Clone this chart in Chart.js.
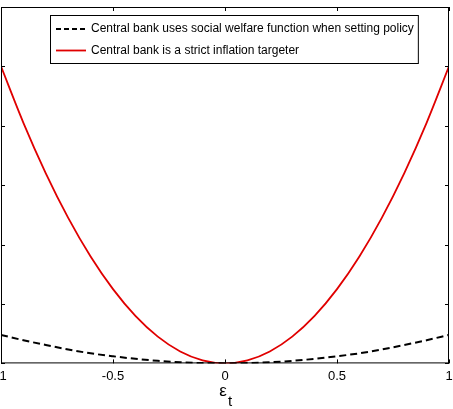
<!DOCTYPE html>
<html>
<head>
<meta charset="utf-8">
<script src="https://cdn.jsdelivr.net/npm/chart.js@4"></script>
<style>
  html, body { margin: 0; padding: 0; background: #fff; overflow: hidden; }
  #wrap { position: absolute; left: -30px; top: 0; width: 513px; height: 409px; }
</style>
</head>
<body>
<div id="wrap"><canvas id="lossChart"></canvas></div>
<script>
// shock values on the x axis
const epsilon = [-1, -0.9, -0.8, -0.7, -0.6, -0.5, -0.4, -0.3, -0.2, -0.1, 0,
                 0.1, 0.2, 0.3, 0.4, 0.5, 0.6, 0.7, 0.8, 0.9, 1];
// loss, central bank with social welfare function (dashed black)
const welfareLoss = [0.48, 0.39, 0.31, 0.235, 0.17, 0.12, 0.077, 0.043, 0.019, 0.005, 0,
                     0.005, 0.019, 0.043, 0.077, 0.12, 0.17, 0.235, 0.31, 0.39, 0.48];
// loss, strict inflation targeter (red)
const strictLoss = [5.0, 4.05, 3.2, 2.45, 1.8, 1.25, 0.8, 0.45, 0.2, 0.05, 0,
                    0.05, 0.2, 0.45, 0.8, 1.25, 1.8, 2.45, 3.2, 4.05, 5.0];
const seriesLabels = [
  'Central bank uses social welfare function when setting policy',
  'Central bank is a strict inflation targeter'
];
const xTicks = [-1, -0.5, 0, 0.5, 1];
const xTickLabels = ['-1', '-0.5', '0', '0.5', '1'];

const FONT = '"Liberation Sans", Arial, Helvetica, sans-serif';

const toPoints = (xs, ys) => xs.map((x, i) => ({ x: x, y: ys[i] }));

// frame, inward ticks, in-plot legend and the epsilon_t label
const matlabFrame = {
  id: 'matlabFrame',
  afterDatasetsDraw(chart) {
    const { ctx, chartArea: a, scales } = chart;
    ctx.save();
    ctx.strokeStyle = '#000';
    ctx.lineWidth = 1;
    ctx.setLineDash([]);
    ctx.strokeRect(a.left + 0.5, a.top + 0.5, a.right - a.left - 1, a.bottom - a.top - 1);

    const tl = 4;
    ctx.beginPath();
    scales.x.ticks.forEach(t => {
      const px = Math.round(scales.x.getPixelForValue(t.value)) + 0.5;
      ctx.moveTo(px, a.bottom); ctx.lineTo(px, a.bottom - tl);
      ctx.moveTo(px, a.top); ctx.lineTo(px, a.top + tl);
    });
    scales.y.ticks.forEach(t => {
      const py = Math.round(scales.y.getPixelForValue(t.value)) + 0.5;
      ctx.moveTo(a.left, py); ctx.lineTo(a.left + tl, py);
      ctx.moveTo(a.right, py); ctx.lineTo(a.right - tl, py);
    });
    ctx.stroke();

    // legend box
    ctx.font = '12px ' + FONT;
    const ds = chart.data.datasets;
    const textW = Math.max(...ds.map(d => ctx.measureText(d.label).width));
    const bx = a.left + 49, by = a.top + 8;
    const bw = 41 + textW + 4, bh = 48;
    ctx.fillStyle = '#fff';
    ctx.fillRect(bx, by, bw, bh);
    ctx.strokeStyle = '#000';
    ctx.strokeRect(bx + 0.5, by + 0.5, bw, bh);
    ds.forEach((d, i) => {
      const ly = by + 14 + i * 21.5;
      ctx.strokeStyle = d.borderColor;
      ctx.lineWidth = d.borderWidth;
      ctx.setLineDash(d.borderDash ? [5, 3] : []);
      ctx.beginPath();
      ctx.moveTo(bx + 6, ly); ctx.lineTo(bx + 36, ly);
      ctx.stroke();
      ctx.setLineDash([]);
      ctx.fillStyle = '#000';
      ctx.textBaseline = 'middle';
      ctx.textAlign = 'left';
      ctx.fillText(d.label, bx + 41, ly);
    });

    // x axis label: epsilon with subscript t
    const cx = scales.x.getPixelForValue(0);
    ctx.fillStyle = '#000';
    ctx.textAlign = 'center';
    ctx.textBaseline = 'alphabetic';
    ctx.font = '17px ' + FONT;
    ctx.fillText('\u03b5', cx - 2, a.bottom + 33);
    ctx.font = '15px ' + FONT;
    ctx.fillText('t', cx + 5, a.bottom + 43);
    ctx.restore();
  }
};

new Chart(document.getElementById('lossChart'), {
  type: 'line',
  data: {
    datasets: [
      {
        label: seriesLabels[0],
        data: toPoints(epsilon, welfareLoss),
        borderColor: '#000000',
        borderWidth: 2,
        borderDash: [7, 4],
        pointRadius: 0,
        fill: false,
        cubicInterpolationMode: 'monotone'
      },
      {
        label: seriesLabels[1],
        data: toPoints(epsilon, strictLoss),
        borderColor: '#e00000',
        borderWidth: 1.8,
        pointRadius: 0,
        fill: false,
        cubicInterpolationMode: 'monotone'
      }
    ]
  },
  options: {
    responsive: true,
    maintainAspectRatio: false,
    animation: false,
    layout: { padding: { left: 31, right: 34, top: 7, bottom: 20 } },
    plugins: {
      legend: { display: false },
      tooltip: { enabled: false }
    },
    scales: {
      x: {
        type: 'linear',
        min: -1,
        max: 1,
        afterBuildTicks: scale => { scale.ticks = xTicks.map(v => ({ value: v })); },
        grid: { display: false, drawTicks: false },
        border: { display: false },
        ticks: {
          color: '#000',
          padding: 5,
          font: { family: FONT, size: 13 },
          maxRotation: 0,
          callback: (v, i) => xTickLabels[i]
        }
      },
      y: {
        display: false,
        min: 0,
        max: 6,
        ticks: { stepSize: 1 }
      }
    }
  },
  plugins: [matlabFrame]
});
</script>
</body>
</html>
